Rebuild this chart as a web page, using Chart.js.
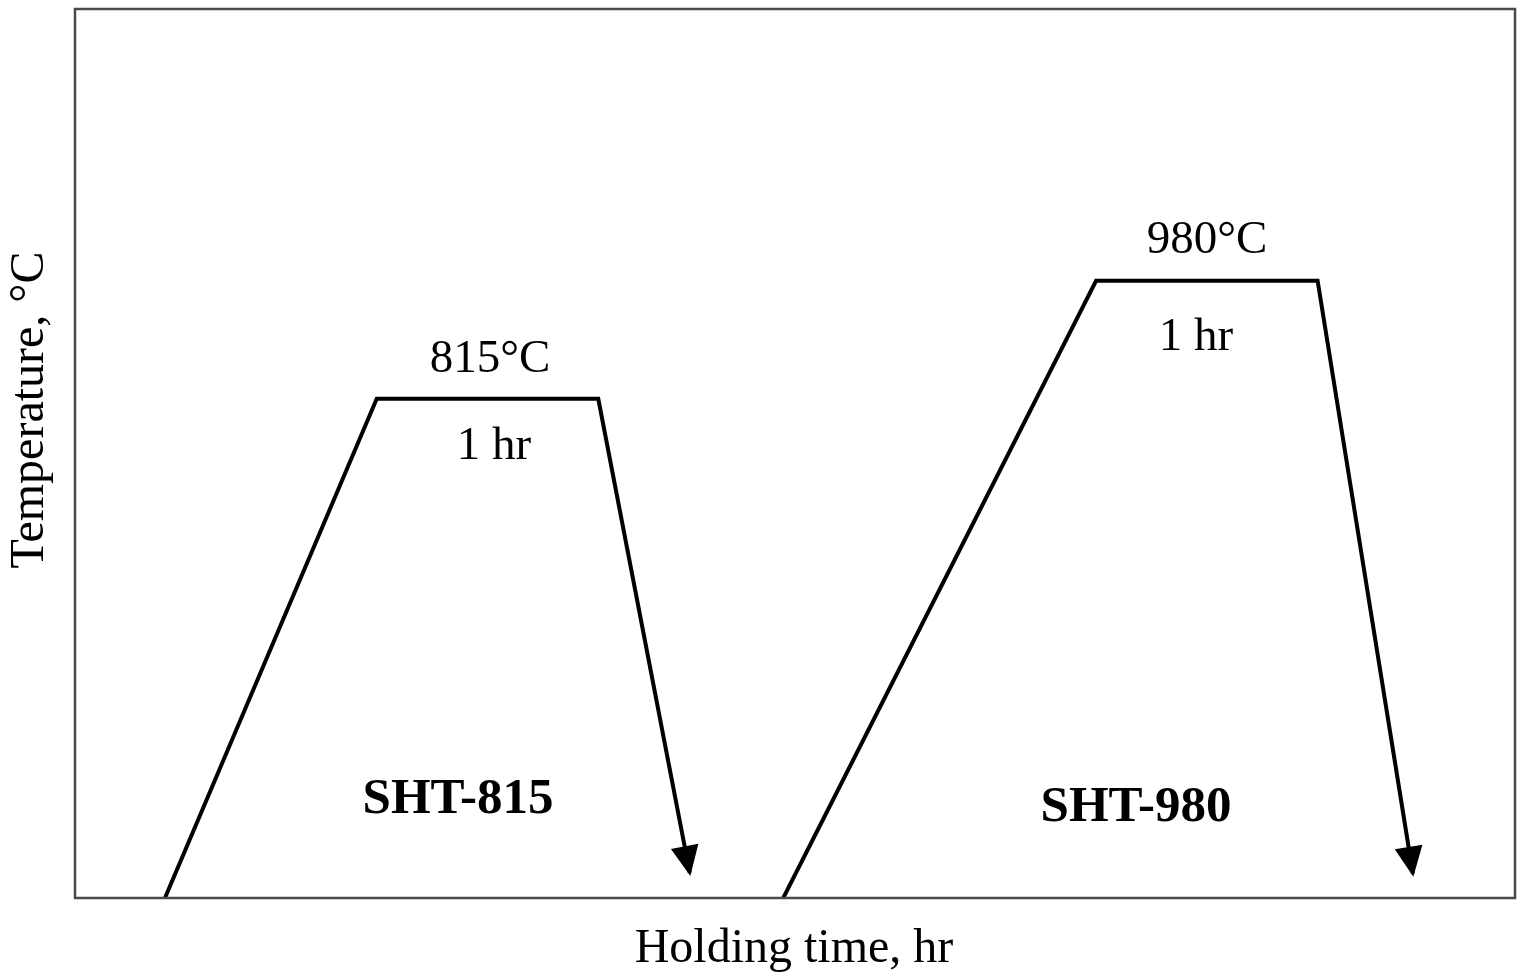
<!DOCTYPE html>
<html>
<head>
<meta charset="utf-8">
<script src="https://cdn.jsdelivr.net/npm/chart.js@4.4.1/dist/chart.umd.min.js"></script>
<style>
  html, body { margin: 0; padding: 0; background: #ffffff; }
  #wrap { width: 1522px; height: 979px; }
</style>
</head>
<body>
<div id="wrap"><canvas id="c" width="1522" height="979"></canvas></div>
<script>
// ---- data (time in hours, temperature in °C) ----
const sht815Time = [0.406, 1.362, 2.362, 2.775];
const sht815Temp = [117, 815, 815, 152];
const sht980Time = [3.197, 4.609, 5.609, 6.039];
const sht980Temp = [117, 980, 980, 151];
const seriesNames = ['SHT-815', 'SHT-980'];
const peakLabels = ['815°C', '980°C'];
const holdLabels = ['1 hr', '1 hr'];
const xTitle = 'Holding time, hr';
const yTitle = 'Temperature, °C';
const xRange = [0, 6.5];
const yRange = [117, 1360];

function toPoints(xs, ys) { return xs.map((x, i) => ({ x: x, y: ys[i] })); }

const SERIF = '"Liberation Serif", "DejaVu Serif", serif';

const decorPlugin = {
  id: 'decor',
  afterDatasetsDraw(chart) {
    const ctx = chart.ctx;
    const a = chart.chartArea;
    const xs = chart.scales.x, ys = chart.scales.y;
    ctx.save();
    // arrow heads at the end of each cooling segment
    chart.data.datasets.forEach((ds) => {
      const n = ds.data.length;
      const p1 = ds.data[n - 2], p2 = ds.data[n - 1];
      const x1 = xs.getPixelForValue(p1.x), y1 = ys.getPixelForValue(p1.y);
      const ex = xs.getPixelForValue(p2.x), ey = ys.getPixelForValue(p2.y);
      const ang = Math.atan2(ey - y1, ex - x1);
      const c = Math.cos(ang), s = Math.sin(ang);
      const x2 = ex + 3 * c, y2 = ey + 3 * s;
      const len = 30, half = 14;
      ctx.beginPath();
      ctx.moveTo(x2, y2);
      ctx.lineTo(x2 - len * c + half * s, y2 - len * s - half * c);
      ctx.lineTo(x2 - len * c - half * s, y2 - len * s + half * c);
      ctx.closePath();
      ctx.fillStyle = '#000';
      ctx.fill();
    });
    // frame
    ctx.strokeStyle = '#4a4a4a';
    ctx.lineWidth = 2.5;
    ctx.strokeRect(a.left, a.top, a.right - a.left, a.bottom - a.top);

    // texts
    ctx.fillStyle = '#000';
    ctx.textAlign = 'center';
    ctx.textBaseline = 'alphabetic';
    ctx.font = '47px ' + SERIF;
    ctx.fillText(peakLabels[0], 490, 372);
    ctx.fillText(holdLabels[0], 494, 459);
    ctx.fillText(peakLabels[1], 1207, 253);
    ctx.fillText(holdLabels[1], 1196, 350);
    ctx.font = 'bold 51px ' + SERIF;
    ctx.fillText(seriesNames[0], 458, 813);
    ctx.fillText(seriesNames[1], 1136, 821);
    ctx.font = '48px ' + SERIF;
    ctx.fillText(xTitle, 794, 962);
    ctx.save();
    ctx.translate(43, 410);
    ctx.rotate(-Math.PI / 2);
    ctx.fillText(yTitle, 0, 0);
    ctx.restore();
    ctx.restore();
  }
};

new Chart(document.getElementById('c'), {
  type: 'line',
  data: {
    datasets: [
      { label: seriesNames[0], data: toPoints(sht815Time, sht815Temp) },
      { label: seriesNames[1], data: toPoints(sht980Time, sht980Temp) }
    ]
  },
  options: {
    responsive: false,
    animation: false,
    layout: { padding: { left: 75, top: 9, right: 7, bottom: 81 } },
    elements: {
      line: { borderColor: '#000', borderWidth: 4, tension: 0, borderJoinStyle: 'miter', fill: false },
      point: { radius: 0, hoverRadius: 0 }
    },
    plugins: { legend: { display: false }, tooltip: { enabled: false } },
    scales: {
      x: { type: 'linear', min: xRange[0], max: xRange[1], display: false },
      y: { type: 'linear', min: yRange[0], max: yRange[1], display: false }
    }
  },
  plugins: [decorPlugin]
});
</script>
</body>
</html>
